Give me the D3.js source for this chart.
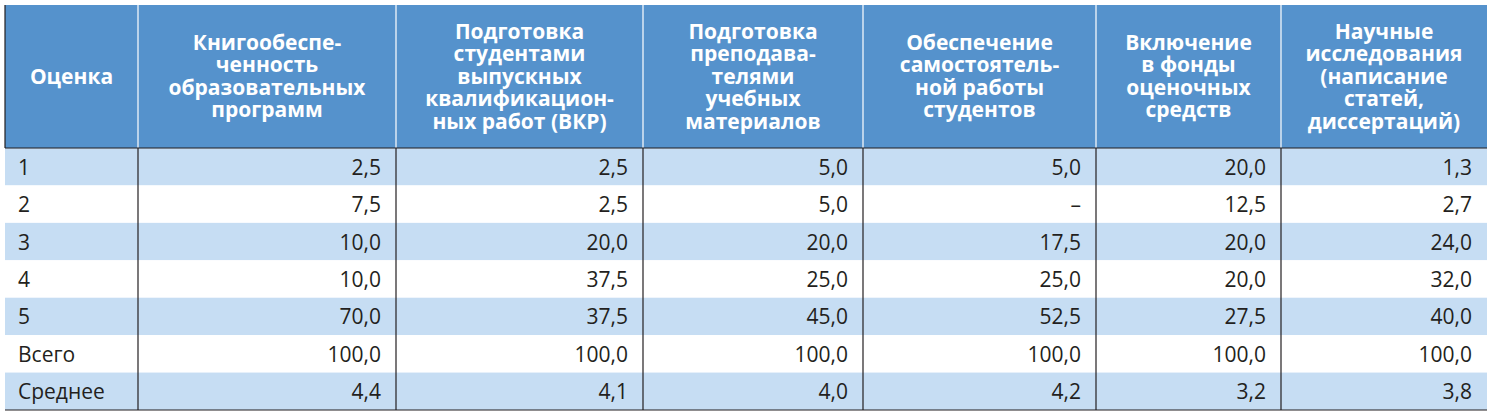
<!DOCTYPE html>
<html><head><meta charset="utf-8">
<script src="https://cdn.jsdelivr.net/npm/d3@7"></script>
<style>body{margin:0;background:#fff}</style>
</head><body><div id="chart"></div>
<script>
// column headers (manual line breaks as in the source)
const headers = [
  ["Оценка"],
  ["Книгообеспе-", "ченность", "образовательных", "программ"],
  ["Подготовка", "студентами", "выпускных", "квалификацион-", "ных работ (ВКР)"],
  ["Подготовка", "преподава-", "телями", "учебных", "материалов"],
  ["Обеспечение", "самостоятель-", "ной работы", "студентов"],
  ["Включение", "в фонды", "оценочных", "средств"],
  ["Научные", "исследования", "(написание", "статей,", "диссертаций)"]
];
const rowLabels = ["1", "2", "3", "4", "5", "Всего", "Среднее"];
const rows = [
  ["2,5", "2,5", "5,0", "5,0", "20,0", "1,3"],
  ["7,5", "2,5", "5,0", "–", "12,5", "2,7"],
  ["10,0", "20,0", "20,0", "17,5", "20,0", "24,0"],
  ["10,0", "37,5", "25,0", "25,0", "20,0", "32,0"],
  ["70,0", "37,5", "45,0", "52,5", "27,5", "40,0"],
  ["100,0", "100,0", "100,0", "100,0", "100,0", "100,0"],
  ["4,4", "4,1", "4,0", "4,2", "3,2", "3,8"]
];
const colEdges = [5, 138, 396, 643, 863, 1096, 1281, 1487];

const W = 1492, H = 420, topY = 5, headBottom = 148, bottomY = 410;
const font = "'Open Sans', 'Noto Sans', sans-serif";
const blue = "#5592cc", light = "#c6ddf3";

const svg = d3.select("#chart").append("svg").attr("width", W).attr("height", H);
const y = d3.scaleBand().domain(d3.range(rowLabels.length)).range([headBottom, bottomY]);

svg.append("rect").attr("x", colEdges[0]).attr("y", topY)
  .attr("width", colEdges[7] - colEdges[0]).attr("height", headBottom - topY).attr("fill", blue);

svg.selectAll(".band").data(rowLabels).join("rect")
  .attr("x", colEdges[0]).attr("y", (d, i) => y(i))
  .attr("width", colEdges[7] - colEdges[0]).attr("height", y.bandwidth())
  .attr("fill", (d, i) => i % 2 === 0 ? light : "#fff");

// header text
headers.forEach((lines, c) => {
  const cx = (colEdges[c] + colEdges[c + 1]) / 2;
  const lh = 22.5;
  const y0 = (topY + headBottom) / 2 - (lines.length - 1) * lh / 2 + 7;
  svg.append("text").attr("text-anchor", "middle").attr("fill", "#fff")
    .attr("font-family", font).attr("font-weight", "700").attr("font-size", "21px")
    .selectAll("tspan").data(lines).join("tspan")
      .attr("x", cx).attr("y", (d, i) => y0 + i * lh).text(d => d);
});

// body text
rowLabels.forEach((lab, r) => {
  const ty = y(r) + y.bandwidth() / 2 + 8;
  svg.append("text").attr("x", colEdges[0] + 13).attr("y", ty)
    .attr("font-family", font).attr("font-size", "21px").attr("fill", "#231f20").text(lab);
  rows[r].forEach((v, c) => {
    svg.append("text").attr("x", colEdges[c + 2] - 15).attr("y", ty)
      .attr("text-anchor", "end").attr("font-family", font).attr("font-size", "21px")
      .attr("fill", "#231f20").text(v);
  });
});

// grid lines
colEdges.slice(1, 7).forEach(x => {
  svg.append("line").attr("x1", x).attr("x2", x).attr("y1", topY).attr("y2", headBottom)
    .attr("stroke", "#fff").attr("stroke-width", 1.2);
  svg.append("line").attr("x1", x).attr("x2", x).attr("y1", headBottom).attr("y2", bottomY)
    .attr("stroke", "#231f20").attr("stroke-width", 1.2);
});
svg.append("line").attr("x1", colEdges[0]).attr("x2", colEdges[7]).attr("y1", headBottom).attr("y2", headBottom)
  .attr("stroke", "#231f20").attr("stroke-width", 1.2);
svg.append("line").attr("x1", colEdges[0]).attr("x2", colEdges[7]).attr("y1", bottomY).attr("y2", bottomY)
  .attr("stroke", "#231f20").attr("stroke-width", 1.2);
svg.append("line").attr("x1", colEdges[0]).attr("x2", colEdges[0]).attr("y1", topY).attr("y2", headBottom)
  .attr("stroke", "#231f20").attr("stroke-width", 1.2);
</script></body></html>
